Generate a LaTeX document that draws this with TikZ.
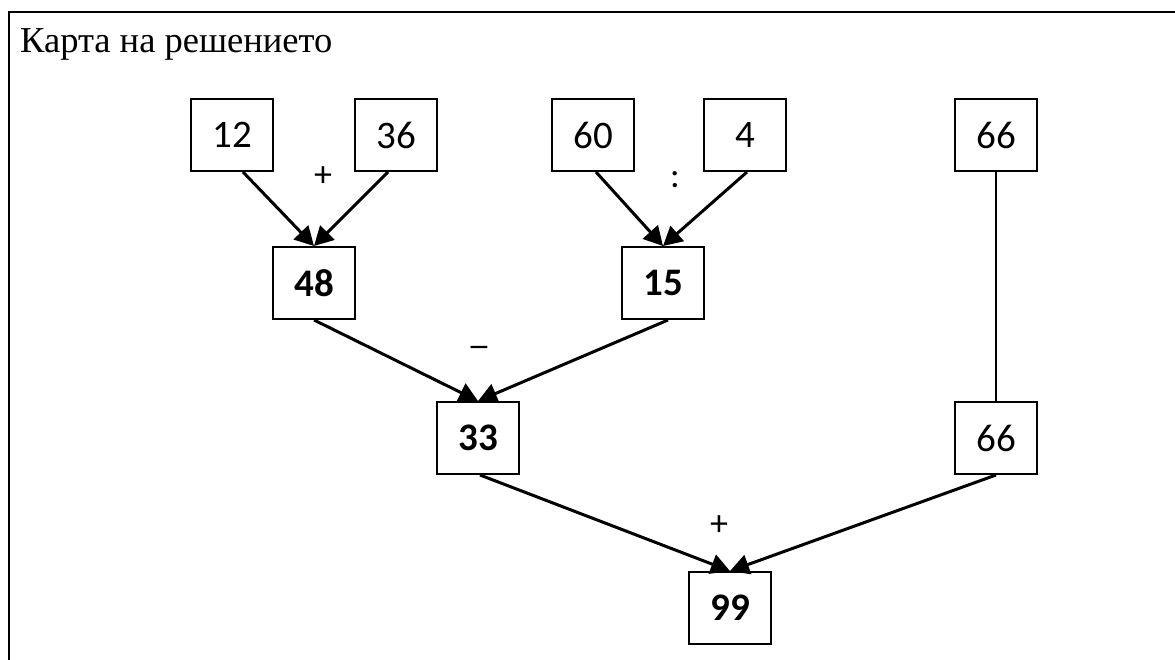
\documentclass[tikz,border=0pt]{standalone}
\usepackage{fontspec}
\setmainfont{Liberation Serif}
\newfontfamily\numfont{Carlito}
\usetikzlibrary{arrows.meta}
\begin{document}
\begin{tikzpicture}[x=1pt,y=-1pt,
  numbox/.style={draw=black, line width=2pt, minimum width=82pt, minimum height=72pt, inner sep=0pt, font=\numfont\fontsize{39}{44}\selectfont},
  resbox/.style={numbox, font=\numfont\bfseries\fontsize{39}{44}\selectfont},
  conn/.style={line width=3pt, -{Triangle[length=19pt,width=20pt]}},
  plain/.style={line width=2.2pt},
  oplabel/.style={font=\numfont\fontsize{36}{40}\selectfont, inner sep=0pt}]
\useasboundingbox (0,0) rectangle (1175,660);
\coordinate (fa) at (9,660);
\coordinate (fb) at (9,12);
\coordinate (fc) at (1175,12);
\draw[line width=2.2pt] (fa) -- (fb) -- (fc);
\node[anchor=base west, inner sep=0pt, font=\fontsize{36.5}{42}\selectfont] (title) at (20,53) {Карта на решението};
\node[numbox] (a) at (232,135) {12};
\node[numbox] (b) at (396,135) {36};
\node[numbox] (c) at (593,135) {60};
\node[numbox] (d) at (745,135) {4};
\node[numbox] (e) at (996,135) {66};
\node[resbox] (f) at (314,283) {48};
\node[resbox] (g) at (663,283) {15};
\node[resbox] (h) at (478,438) {33};
\node[numbox] (i) at (996,438) {66};
\node[resbox] (j) at (730,608) {99};
\node[oplabel] (p1) at (323,177) {+};
\node[oplabel] (p2) at (675,180) {:};
\node[oplabel, xscale=1.3] (p3) at (479,352) {–};
\node[oplabel] (p4) at (719,526) {+};
\draw[conn] ([xshift=11pt]a.south) -- (f.north);
\draw[conn] ([xshift=-8pt]b.south) -- (f.north);
\draw[conn] ([xshift=3pt]c.south) -- (g.north);
\draw[conn] ([xshift=2pt]d.south) -- (g.north);
\draw[conn] (f.south) -- (h.north);
\draw[conn] ([xshift=5pt]g.south) -- (h.north);
\draw[conn] ([xshift=2pt]h.south) -- (j.north);
\draw[conn] (i.south) -- (j.north);
\draw[plain] (e.south) -- (i.north);
\end{tikzpicture}
\end{document}
